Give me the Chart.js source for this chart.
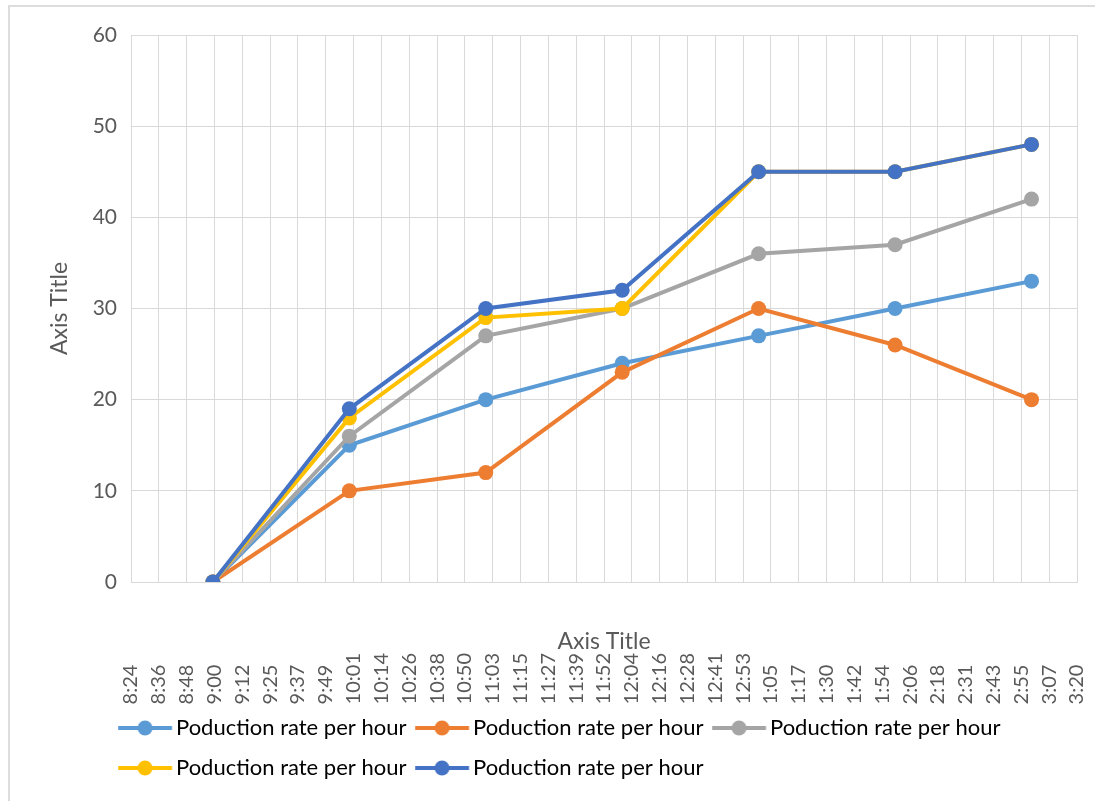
<!DOCTYPE html>
<html>
<head>
<meta charset="utf-8">
<script src="https://cdn.jsdelivr.net/npm/chart.js@4/dist/chart.umd.min.js"></script>
<style>
  html, body { margin: 0; padding: 0; background: #fff; }
  #wrap { width: 1095px; height: 801px; }
</style>
</head>
<body>
<div id="wrap"><canvas id="prodChart" width="1095" height="801"></canvas></div>
<script>
// tick labels along the time axis (8:24 ... 3:20)
const timeLabels = ['8:24', '8:36', '8:48', '9:00', '9:12', '9:25', '9:37', '9:49', '10:01', '10:14',
  '10:26', '10:38', '10:50', '11:03', '11:15', '11:27', '11:39', '11:52', '12:04', '12:16',
  '12:28', '12:41', '12:53', '1:05', '1:17', '1:30', '1:42', '1:54', '2:06', '2:18',
  '2:31', '2:43', '2:55', '3:07', '3:20'];

// sample times, in hours of the day (9:00 ... 3:00 pm)
const sampleHours = [9, 10, 11, 12, 13, 14, 15];
const axisStart = 8.4;        // 8:24
const axisEnd = 15 + 20 / 60; // 3:20 pm

const seriesName = 'Poduction rate per hour';
const rate1 = [0, 15, 20, 24, 27, 30, 33];
const rate2 = [0, 10, 12, 23, 30, 26, 20];
const rate3 = [0, 16, 27, 30, 36, 37, 42];
const rate4 = [0, 18, 29, 30, 45, 45, 48];
const rate5 = [0, 19, 30, 32, 45, 45, 48];

const colors = ['#5B9BD5', '#ED7D31', '#A5A5A5', '#FFC000', '#4472C4'];
const textColor = '#595959';
const gridColor = '#D9D9D9';
const fontFamily = 'Lato, "Open Sans", sans-serif';

// rotated labels: pad short ones with a figure space so they line up at the bottom
const maxLen = Math.max(...timeLabels.map(s => s.length));
const paddedLabels = timeLabels.map(s => s + '\u2007'.repeat(maxLen - s.length));

// legend geometry
const legendFont = 22;
const legendPad = 18;
const itemStep = 297;    // distance from one legend item to the next
const markerStart = 118; // left end of first legend marker
const textStart = 176;   // left edge of first legend text
const row1Y = 728;       // centre of first legend row
const mctx = document.createElement('canvas').getContext('2d');
mctx.font = legendFont + 'px ' + fontFamily;
const textW = mctx.measureText(seriesName).width;
const boxW = itemStep - legendFont / 2 - legendPad - textW;
const boxX = textStart - legendFont / 2 - boxW;
const half = boxX + boxW / 2 - markerStart;

function makeMarker(color) {
  const c = document.createElement('canvas');
  const cw = Math.ceil(2 * Math.max(half, 54 - half));
  c.width = cw;
  c.height = 18;
  const g = c.getContext('2d');
  const x0 = cw / 2 - half;
  g.strokeStyle = color;
  g.lineWidth = 4;
  g.beginPath();
  g.moveTo(x0, 9);
  g.lineTo(x0 + 54, 9);
  g.stroke();
  g.fillStyle = color;
  g.beginPath();
  g.arc(x0 + 27, 9, 7.5, 0, Math.PI * 2);
  g.fill();
  return c;
}

const allRates = [rate1, rate2, rate3, rate4, rate5];
const datasets = allRates.map((vals, i) => ({
  label: seriesName,
  data: sampleHours.map((h, j) => ({ x: h, y: vals[j] })),
  borderColor: colors[i],
  backgroundColor: colors[i],
  borderWidth: 4,
  pointRadius: 7.5,
  pointBorderWidth: 0,
  pointBackgroundColor: colors[i],
  tension: 0,
  order: allRates.length - i,
}));

const chromePlugin = {
  id: 'chrome',
  beforeDraw(chart) {
    const c = chart.ctx;
    c.save();
    c.fillStyle = '#fff';
    c.fillRect(0, 0, chart.width, chart.height);
    c.strokeStyle = '#DDDDDD';
    c.lineWidth = 2;
    c.strokeRect(9, 6, 1300, 1000);
    c.restore();
  },
  afterLayout(chart) {
    // park the legend where Excel puts it (left aligned under the axis labels)
    const lg = chart.legend;
    const dx = (boxX - legendPad) - lg.left;
    lg.left += dx;
    lg.right += dx;
    lg.top = row1Y - legendPad - legendFont / 2;
    lg.bottom = chart.height;
    lg.height = lg.bottom - lg.top;
  },
  afterDraw(chart) {
    const c = chart.ctx;
    const a = chart.chartArea;
    c.save();
    c.fillStyle = textColor;
    c.font = '23px ' + fontFamily;
    c.textAlign = 'center';
    c.textBaseline = 'middle';
    c.fillText('Axis Title', (a.left + a.right) / 2, a.bottom + 60);
    c.restore();
  }
};

const ctx = document.getElementById('prodChart').getContext('2d');
const prodChart = new Chart(ctx, {
  type: 'line',
  data: { datasets },
  plugins: [chromePlugin],
  options: {
    responsive: false,
    animation: false,
    events: [],
    layout: { padding: { left: 8, top: 35, right: 18, bottom: 13 } },
    plugins: {
      tooltip: { enabled: false },
      legend: {
        position: 'bottom',
        align: 'start',
        maxHeight: 76,
        labels: {
          usePointStyle: true,
          pointStyleWidth: boxW,
          padding: legendPad,
          color: textColor,
          font: { family: fontFamily, size: legendFont },
          generateLabels(chart) {
            return chart.data.datasets.map((ds, i) => ({
              text: ds.label,
              pointStyle: makeMarker(colors[i]),
              fillStyle: colors[i],
              strokeStyle: colors[i],
              lineWidth: 0,
              hidden: false,
              datasetIndex: i,
            }));
          }
        }
      }
    },
    scales: {
      x: {
        type: 'linear',
        min: axisStart,
        max: axisEnd,
        afterBuildTicks(scale) {
          const step = (axisEnd - axisStart) / (timeLabels.length - 1);
          scale.ticks = timeLabels.map((_, i) => ({ value: axisStart + i * step }));
        },
        afterFit(scale) { scale.height = 130; },
        grid: { color: gridColor, drawTicks: true, tickLength: 71, tickColor: 'rgba(0,0,0,0)' },
        border: { color: gridColor },
        ticks: {
          autoSkip: false,
          minRotation: 90,
          maxRotation: 90,
          padding: 0,
          color: textColor,
          font: { family: fontFamily, size: 20, lineHeight: 0.8 },
          callback: (v, i) => paddedLabels[i],
        }
      },
      y: {
        min: 0,
        max: 60,
        afterFit(scale) { scale.width = 123; },
        grid: { color: gridColor, drawTicks: false },
        border: { color: gridColor },
        ticks: {
          stepSize: 10,
          padding: 14,
          color: textColor,
          font: { family: fontFamily, size: 21 },
        },
        title: {
          display: true,
          text: 'Axis Title',
          color: textColor,
          font: { family: fontFamily, size: 23 },
          padding: { top: 38, bottom: 0 },
        }
      }
    }
  }
});
</script>
</body>
</html>
